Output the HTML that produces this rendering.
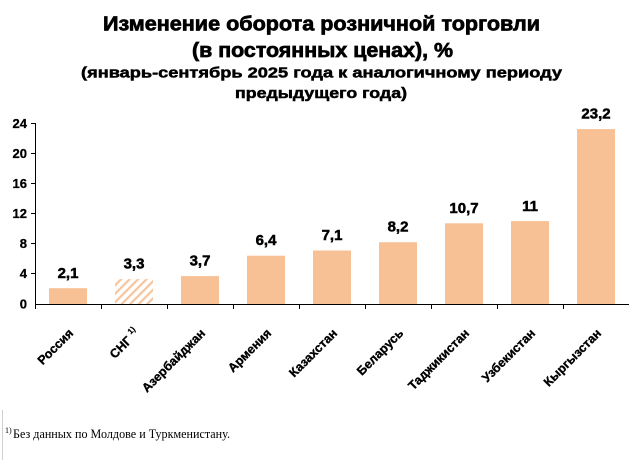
<!DOCTYPE html>
<html><head><meta charset="utf-8">
<style>
html,body{margin:0;padding:0;background:#fff;}
svg{display:block;}
</style></head>
<body>
<svg width="629" height="460" viewBox="0 0 629 460" xmlns="http://www.w3.org/2000/svg">
<defs>
<pattern id="hatch" patternUnits="userSpaceOnUse" width="6" height="6" patternTransform="rotate(45)">
<rect width="6" height="6" fill="#fff"/>
<rect x="0" y="0" width="2.2" height="6" fill="#F5C49C"/>
</pattern>
</defs>
<rect width="629" height="460" fill="#fff"/>
<g font-family="'Liberation Sans', Arial, sans-serif" font-weight="bold" fill="#000" stroke="#000" stroke-width="0.7" text-anchor="start">
<text x="103" y="30.5" font-size="20" textLength="437" lengthAdjust="spacingAndGlyphs">Изменение оборота розничной торговли</text>
<text x="192" y="57" font-size="20" textLength="261" lengthAdjust="spacingAndGlyphs">(в постоянных ценах), %</text>
<text x="81" y="77.5" font-size="15" stroke-width="0.5" textLength="481" lengthAdjust="spacingAndGlyphs">(январь-сентябрь 2025 года к аналогичному периоду</text>
<text x="235" y="98" font-size="15" stroke-width="0.5" textLength="172" lengthAdjust="spacingAndGlyphs">предыдущего года)</text>
</g>
<!-- y axis -->
<g stroke="#000" stroke-width="1">
<line x1="35.5" y1="123" x2="35.5" y2="304.5"/>
<line x1="31" y1="123.5" x2="35.5" y2="123.5"/>
<line x1="31" y1="153.5" x2="35.5" y2="153.5"/>
<line x1="31" y1="183.5" x2="35.5" y2="183.5"/>
<line x1="31" y1="213.5" x2="35.5" y2="213.5"/>
<line x1="31" y1="243.5" x2="35.5" y2="243.5"/>
<line x1="31" y1="273.5" x2="35.5" y2="273.5"/>
</g>
<g font-family="'Liberation Sans', Arial, sans-serif" font-weight="bold" font-size="13" text-anchor="end" fill="#000" stroke="#000" stroke-width="0.3">
<text x="27" y="128">24</text>
<text x="27" y="158">20</text>
<text x="27" y="188">16</text>
<text x="27" y="218">12</text>
<text x="27" y="248">8</text>
<text x="27" y="278">4</text>
<text x="27" y="308.5">0</text>
</g>
<!-- bars -->
<g fill="#F8C195">
<rect x="49" y="288.2" width="38" height="15.8"/>
<rect x="115" y="279.1" width="38" height="24.9" fill="url(#hatch)"/>
<rect x="181" y="276.1" width="38" height="27.9"/>
<rect x="247" y="255.7" width="38" height="48.3"/>
<rect x="313" y="250.5" width="38" height="53.5"/>
<rect x="379" y="242.2" width="38" height="61.8"/>
<rect x="445" y="223.3" width="38" height="80.7"/>
<rect x="511" y="221.1" width="38" height="82.9"/>
<rect x="577" y="129.1" width="38" height="174.9"/>
</g>
<!-- x axis -->
<g stroke="#000" stroke-width="1">
<line x1="35" y1="304.5" x2="629" y2="304.5"/>
<line x1="35.5" y1="304" x2="35.5" y2="309"/>
<line x1="101.5" y1="304" x2="101.5" y2="309"/>
<line x1="167.5" y1="304" x2="167.5" y2="309"/>
<line x1="233.5" y1="304" x2="233.5" y2="309"/>
<line x1="299.5" y1="304" x2="299.5" y2="309"/>
<line x1="365.5" y1="304" x2="365.5" y2="309"/>
<line x1="431.5" y1="304" x2="431.5" y2="309"/>
<line x1="497.5" y1="304" x2="497.5" y2="309"/>
<line x1="563.5" y1="304" x2="563.5" y2="309"/>
</g>
<!-- value labels -->
<g font-family="'Liberation Sans', Arial, sans-serif" font-weight="bold" font-size="15" text-anchor="middle" fill="#000" stroke="#000" stroke-width="0.5">
<text x="68" y="278">2,1</text>
<text x="134" y="268.5">3,3</text>
<text x="200" y="265.5">3,7</text>
<text x="266" y="245">6,4</text>
<text x="332" y="240">7,1</text>
<text x="398" y="231.5">8,2</text>
<text x="464" y="213">10,7</text>
<text x="530" y="211">11</text>
<text x="596" y="118.5">23,2</text>
</g>
<!-- category labels -->
<g font-family="'Liberation Sans', Arial, sans-serif" font-weight="bold" font-size="12.5" text-anchor="end" fill="#000" stroke="#000" stroke-width="0.35">
<text transform="translate(74,334) rotate(-45)">Россия</text>
<text transform="translate(140,334) rotate(-45)">СНГ <tspan font-size="8" dy="-6" stroke-width="0.2">1)</tspan></text>
<text transform="translate(206,334) rotate(-45)">Азербайджан</text>
<text transform="translate(272,334) rotate(-45)">Армения</text>
<text transform="translate(338,334) rotate(-45)">Казахстан</text>
<text transform="translate(404,334) rotate(-45)">Беларусь</text>
<text transform="translate(470,334) rotate(-45)">Таджикистан</text>
<text transform="translate(536,334) rotate(-45)">Узбекистан</text>
<text transform="translate(602,334) rotate(-45)">Кыргызстан</text>
</g>
<!-- footnote -->
<line x1="2.5" y1="410" x2="2.5" y2="460" stroke="#d0d0d0" stroke-width="1"/>
<g font-family="'Liberation Serif', 'Times New Roman', serif" fill="#000">
<text x="5" y="433" font-size="8">1)</text>
<text x="13" y="438" font-size="13" textLength="217" lengthAdjust="spacingAndGlyphs">Без данных по Молдове и Туркменистану.</text>
</g>
</svg>
</body></html>
